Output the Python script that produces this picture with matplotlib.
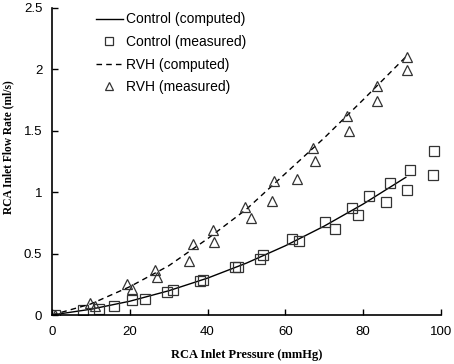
import matplotlib
matplotlib.use("Agg")
import matplotlib.pyplot as plt

# Control measured
ctrl_x = [0.8, 8, 12, 16, 20.6, 23.8, 29.7, 31.2, 38, 38.9, 47, 47.9, 53.5, 54.3,
          61.8, 63.4, 70.3, 72.7, 77.2, 78.6, 81.6, 85.8, 86.8, 91.2, 92.1, 97.9, 98.3]
ctrl_y = [0.0, 0.04, 0.05, 0.07, 0.12, 0.13, 0.19, 0.2, 0.28, 0.285, 0.39, 0.39, 0.455, 0.49,
          0.615, 0.6, 0.76, 0.70, 0.87, 0.81, 0.97, 0.92, 1.07, 1.02, 1.18, 1.14, 1.33]
# RVH measured
rvh_x = [0.8, 9.9, 11, 19.4, 20.7, 26.4, 26.9, 35.2, 36.2, 41.7, 41.5, 49.6, 51.2, 56.6,
         57.2, 62.9, 67.1, 67.7, 76.4, 75.8, 83.7, 83.7, 91.2, 91.3]
rvh_y = [0.0, 0.1, 0.075, 0.25, 0.21, 0.37, 0.31, 0.44, 0.58, 0.59, 0.69, 0.875, 0.79, 0.93,
         1.09, 1.11, 1.355, 1.255, 1.50, 1.62, 1.86, 1.74, 2.1, 1.99]
# Computed curves
ctrl_cx = [0, 10, 20, 30, 40, 50, 60, 70, 80, 91]
ctrl_cy = [0, 0.047, 0.112, 0.197, 0.30, 0.422, 0.563, 0.723, 0.902, 1.12]
rvh_cx = [0, 10, 20, 30, 40, 50, 60, 70, 80, 91]
rvh_cy = [0, 0.09, 0.23, 0.40, 0.62, 0.86, 1.15, 1.44, 1.75, 2.1]

x_ticks = [0, 20, 40, 60, 80, 100]
y_ticks = [0, 0.5, 1, 1.5, 2, 2.5]
y_ticklabels = ["0", "0.5", "1", "1.5", "2", "2.5"]

plt.rcParams['font.family'] = ['Liberation Sans', 'DejaVu Sans']
fig = plt.figure(figsize=(4.54, 3.64), dpi=100)
ax = fig.add_axes([0.1145, 0.1346, 0.8565, 0.8444])

edge = "#333333"
ax.plot(ctrl_cx, ctrl_cy, color="black", lw=1.0, linestyle="-", label="Control (computed)")
ax.plot(ctrl_x, ctrl_y, linestyle="none", marker="s", markersize=7, markerfacecolor="none",
        markeredgecolor=edge, markeredgewidth=0.9, label="Control (measured)")
ax.plot(rvh_cx, rvh_cy, color="black", lw=1.0, linestyle=(0, (4, 3)), label="RVH (computed)")
ax.plot(rvh_x, rvh_y, linestyle="none", marker="^", markersize=7.5, markerfacecolor="none",
        markeredgecolor=edge, markeredgewidth=0.9, label="RVH (measured)")

ax.set_xlim(0, 100)
ax.set_ylim(0, 2.5)
ax.set_xticks(x_ticks)
ax.set_yticks(y_ticks)
ax.set_yticklabels(y_ticklabels)
ax.tick_params(direction="in", length=4, width=1, labelsize=9.5)
ax.tick_params(axis="x", pad=8)
ax.tick_params(axis="y", pad=7)
ax.spines["top"].set_visible(False)
ax.spines["right"].set_visible(False)
for s in ["left", "bottom"]:
    ax.spines[s].set_linewidth(1.2)

ax.set_xlabel("RCA Inlet Pressure (mmHg)", family="Liberation Serif", fontweight="bold",
              fontsize=9, labelpad=8)
ax.set_ylabel("RCA Inlet Flow Rate (ml/s)", family="Liberation Serif", fontweight="bold",
              fontsize=8.3)
ax.yaxis.set_label_coords(-0.098, 0.546)

leg = ax.legend(loc="upper left", bbox_to_anchor=(0.08, 1.025), frameon=False, fontsize=10,
                handlelength=2.0, handletextpad=0.2, labelspacing=0.62, markerscale=0.8)

fig.savefig("out.png", dpi=100)
